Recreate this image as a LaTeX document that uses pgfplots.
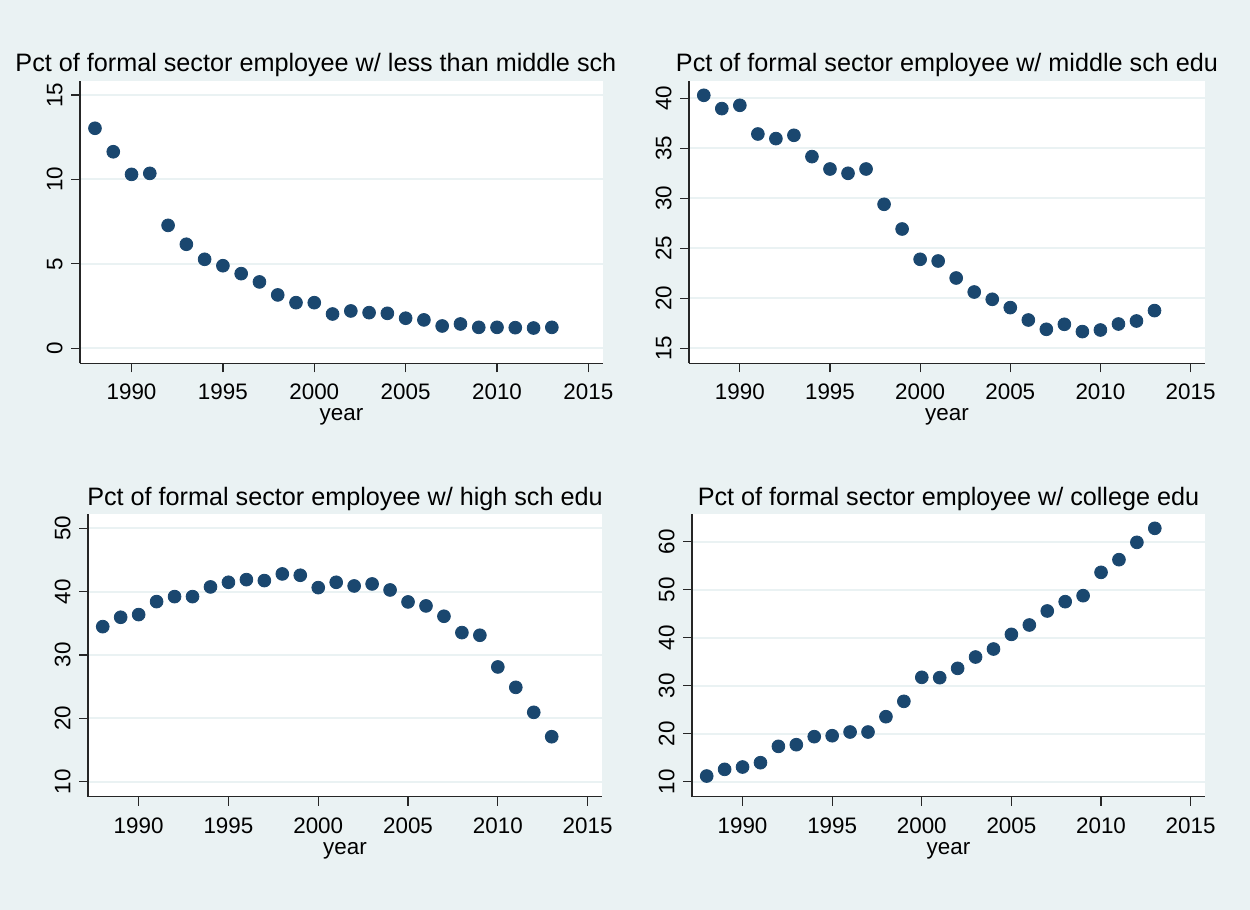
\documentclass[border=0pt]{standalone}
\usepackage{fontspec}
\setmainfont{Liberation Sans}
\usepackage{pgfplots}
\pgfplotsset{compat=1.18}
\definecolor{bg}{HTML}{EAF2F3}
\definecolor{stnavy}{HTML}{1A476F}
\pgfplotsset{
  stata/.style={
    scale only axis,
    axis lines*=left,
    axis line style={black!85, line width=0.7pt},
    axis background/.style={fill=white},
    xmin=1987.18, xmax=2015.8,
    xtick={1990,1995,...,2015},
    tick align=outside,
    major tick length=4.5pt,
    tick style={black!85, line width=0.6pt},
    ymajorgrids,
    grid style={bg, line width=1pt},
    /pgf/number format/assume math mode=true,
    /pgf/number format/1000 sep={},
    ticklabel style={font=\fontsize{11.2}{13}\selectfont},
    xticklabel style={inner sep=0pt, anchor=north},
    xticklabel shift=5.8pt,
    yticklabel style={rotate=90, anchor=south, inner sep=0pt},
    yticklabel shift=4pt,
    xlabel={year},
    xlabel style={at={(axis description cs:0.5,0)}, anchor=base, yshift=-28.7pt, inner sep=0pt, font=\fontsize{11.2}{13}\selectfont},
    every axis title/.style={at={(0.5,1)}, anchor=base, yshift=4.6pt, inner sep=0pt, font=\fontsize{12.6}{14}\selectfont},
  },
  stmark/.style={only marks, mark=*, mark size=3.2pt, color=stnavy, mark options={fill=stnavy, draw=stnavy}},
}
\begin{document}
\begin{tikzpicture}
\fill[bg] (0pt,0pt) rectangle (625pt,-455pt);

% Panel 1
\begin{axis}[stata, at={(40pt,-181.65pt)}, anchor=south west,
  width=261.5pt, height=141.15pt,
  ymin=-0.89, ymax=15.83, ytick={0,5,10,15},
  title={Pct of formal sector employee w/ less than middle sch},
  title style={at={(0.451,1)}}]
\addplot[stmark] coordinates {
(1988,13.03) (1989,11.64) (1990,10.30) (1991,10.36) (1992,7.28) (1993,6.16)
(1994,5.27) (1995,4.89) (1996,4.42) (1997,3.93) (1998,3.16) (1999,2.70)
(2000,2.70) (2001,2.03) (2002,2.21) (2003,2.11) (2004,2.07) (2005,1.78)
(2006,1.68) (2007,1.32) (2008,1.44) (2009,1.24) (2010,1.24) (2011,1.22)
(2012,1.20) (2013,1.24)};
\end{axis}

% Panel 2
\begin{axis}[stata, at={(344.5pt,-181.65pt)}, anchor=south west,
  width=258pt, height=141.15pt,
  ymin=13.5, ymax=41.73, ytick={15,20,...,40},
  title={Pct of formal sector employee w/ middle sch edu}]
\addplot[stmark] coordinates {
(1988,40.30) (1989,38.97) (1990,39.30) (1991,36.43) (1992,35.97) (1993,36.30)
(1994,34.17) (1995,32.93) (1996,32.50) (1997,32.93) (1998,29.40) (1999,26.93)
(2000,23.90) (2001,23.73) (2002,22.03) (2003,20.63) (2004,19.90) (2005,19.07)
(2006,17.83) (2007,16.90) (2008,17.40) (2009,16.67) (2010,16.83) (2011,17.43)
(2012,17.73) (2013,18.77)};
\end{axis}

% Panel 3
\begin{axis}[stata, at={(44pt,-398.35pt)}, anchor=south west,
  width=257pt, height=141.2pt,
  ymin=7.63, ymax=52.2, ytick={10,20,...,50},
  title={Pct of formal sector employee w/ high sch edu}]
\addplot[stmark] coordinates {
(1988,34.47) (1989,35.95) (1990,36.37) (1991,38.42) (1992,39.21) (1993,39.21)
(1994,40.74) (1995,41.47) (1996,41.89) (1997,41.74) (1998,42.79) (1999,42.58)
(2000,40.63) (2001,41.47) (2002,40.89) (2003,41.21) (2004,40.26) (2005,38.37)
(2006,37.74) (2007,36.11) (2008,33.53) (2009,33.11) (2010,28.11) (2011,24.89)
(2012,20.95) (2013,17.10)};
\end{axis}

% Panel 4
\begin{axis}[stata, at={(346pt,-398.35pt)}, anchor=south west,
  width=256.5pt, height=141.2pt,
  ymin=6.875, ymax=65.7, ytick={10,20,...,60},
  title={Pct of formal sector employee w/ college edu}]
\addplot[stmark] coordinates {
(1988,11.18) (1989,12.57) (1990,13.06) (1991,13.96) (1992,17.36) (1993,17.71)
(1994,19.38) (1995,19.58) (1996,20.35) (1997,20.35) (1998,23.54) (1999,26.74)
(2000,31.74) (2001,31.67) (2002,33.61) (2003,35.97) (2004,37.64) (2005,40.69)
(2006,42.64) (2007,45.56) (2008,47.50) (2009,48.75) (2010,53.61) (2011,56.25)
(2012,59.86) (2013,62.78)};
\end{axis}
\end{tikzpicture}
\end{document}
